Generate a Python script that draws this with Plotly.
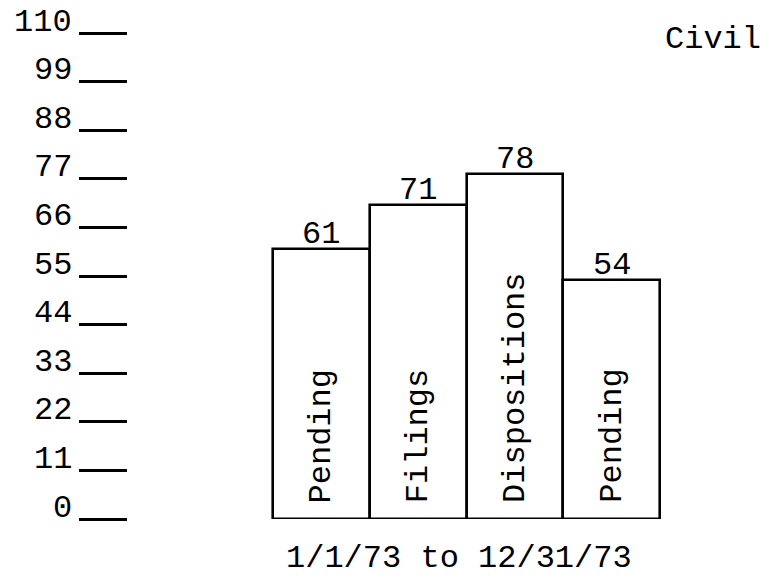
import plotly.graph_objects as go

categories = ["Pending", "Filings", "Dispositions", "Pending"]
values = [61, 71, 78, 54]
tick_values = [0, 11, 22, 33, 44, 55, 66, 77, 88, 99, 110]
tick_labels = ["0", "11", "22", "33", "44", "55", "66", "77", "88", "99", "110"]
title_text = "Civil"
period_text = "1/1/73 to 12/31/73"

FONT = "Liberation Mono, Courier New, monospace"
FS = 32

x_pos = list(range(len(categories)))

fig = go.Figure()
fig.add_trace(go.Bar(
    x=x_pos, y=values, width=1,
    marker=dict(color="white", line=dict(color="black", width=2.6)),
    hoverinfo="skip", showlegend=False,
))

annotations = []
# value labels above bars
for xi, v in zip(x_pos, values):
    annotations.append(dict(x=xi, y=v, xref="x", yref="y", text=str(v),
                            showarrow=False, xanchor="center", yanchor="bottom",
                            yshift=-6, font=dict(family=FONT, size=FS, color="black")))
# rotated category labels inside bars
for xi, c in zip(x_pos, categories):
    annotations.append(dict(x=xi, y=0, xref="x", yref="y", text=c, textangle=-90,
                            showarrow=False, xanchor="center", yanchor="bottom",
                            yshift=14, font=dict(family=FONT, size=FS, color="black")))
# tick labels raised above the tick dashes
for tv, tl in zip(tick_values, tick_labels):
    annotations.append(dict(x=0, y=tv, xref="paper", yref="y", text=tl,
                            showarrow=False, xanchor="right", yanchor="middle",
                            xshift=-54, yshift=11,
                            font=dict(family=FONT, size=FS, color="black")))
annotations.append(dict(x=(713 - 128) / 592, y=1 - 7 / 486, xref="paper", yref="paper",
                        text=title_text, showarrow=False, xanchor="center", yanchor="middle",
                        font=dict(family=FONT, size=FS, color="black")))
annotations.append(dict(x=1.5, y=0, xref="x", yref="paper", text=period_text,
                        showarrow=False, xanchor="center", yanchor="middle",
                        xshift=-8, yshift=-39,
                        font=dict(family=FONT, size=FS, color="black")))

fig.update_layout(
    width=762, height=570,
    margin=dict(l=120, r=50, t=25, b=59),
    paper_bgcolor="white", plot_bgcolor="white",
    bargap=0,
    xaxis=dict(range=[-2.0, 4.12], visible=False, fixedrange=True),
    yaxis=dict(range=[0, 110], tickvals=tick_values, showticklabels=False,
               ticks="outside", ticklen=48, tickwidth=2.5, tickcolor="black",
               showgrid=False, zeroline=False, showline=False, fixedrange=True),
    annotations=annotations,
)

fig.write_html("out.html")
